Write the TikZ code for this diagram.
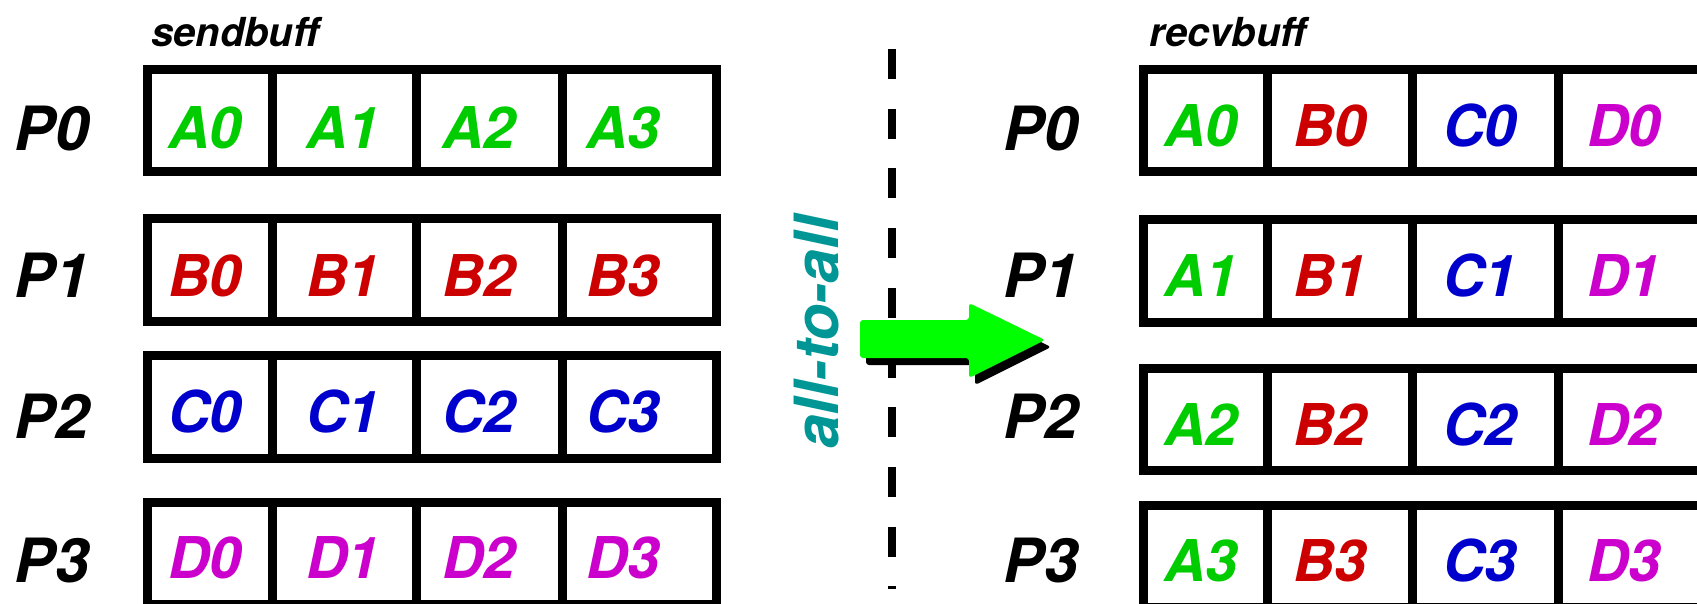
\documentclass[tikz,border=0pt]{standalone}
\usepackage{fontspec}
\setmainfont{TeX Gyre Heros}

\definecolor{itemA}{RGB}{0,204,0}
\definecolor{itemB}{RGB}{204,0,0}
\definecolor{itemC}{RGB}{0,0,204}
\definecolor{itemD}{RGB}{204,0,204}
\definecolor{opteal}{RGB}{0,150,150}
\definecolor{arrowgreen}{RGB}{0,255,0}

\begin{document}
\begin{tikzpicture}[
    x=0.5pt, y=-0.5pt,
    buff/.style={line width=4.5pt},
    plabel/.style={font=\fontsize{30.5}{30.5}\selectfont\bfseries\itshape, anchor=base, inner sep=0pt},
    item/.style={font=\fontsize{28.8}{28.8}\selectfont\bfseries\itshape, anchor=base, inner sep=0pt, text=#1},
    item/.default=black,
    bufftitle/.style={font=\fontsize{20}{20}\selectfont\bfseries\itshape, anchor=base, inner sep=0pt},
    splitline/.style={line width=4pt, dash pattern=on 15pt off 14.85pt},
    bigarrow/.style={fill=#1, rounded corners=1.5pt}
]
\useasboundingbox (0,0) rectangle (1697,604);
\clip (0,0) rectangle (1697,604);

% --- Buffer titles ---
\node[bufftitle] (sendbuff) at (235,47) {sendbuff};
\node[bufftitle] (recvbuff) at (1228,47) {recvbuff};

% --- Buffers (left: send, right: recv shifted by 995.5) ---
\foreach \top/\bot/\rtop/\rbot in {69.5/172/69.5/172, 218.5/321/219.5/322, 355.5/458/368.8/470.7, 502/604.5/505.5/607.5} {
    \draw[buff] (147.8,\top) rectangle (716.7,\bot);
    \draw[buff] (1143.3,\rtop) rectangle (1712.2,\rbot);
    \foreach \x in {272.3, 416.7, 562.7} {
        \draw[buff] (\x,\top) -- (\x,\bot);
        \draw[buff] ({\x+995.5},\rtop) -- ({\x+995.5},\rbot);
    }
}

% --- Process labels ---
\foreach \p/\y in {0/151, 1/298, 2/438, 3/582} {
    \node[plabel] (sendP\p) at (52,\y) {P\p};
    \node[plabel] (recvP\p) at (1041,\y) {P\p};
}

% --- Items: send row i holds X0..X3, recv row i holds A i..D i ---
\foreach \L/\clr/\ly/\ry [count=\i from 0] in {A/itemA/149/147, B/itemB/297/297, C/itemC/432/445, D/itemD/578/581} {
    \foreach \lx/\rx/\M/\mclr [count=\j from 0] in {205/1201/A/itemA, 343/1330/B/itemB, 479/1480/C/itemC, 623/1624/D/itemD} {
        \node[item=\clr]  (send\L\j) at (\lx,\ly) {\L\j};
        \node[item=\mclr] (recv\M\i) at (\rx,\ry) {\M\i};
    }
}

% --- Separator ---
\coordinate (splittop) at (892,49);
\coordinate (splitbot) at (892,589);
\draw[splitline] (splittop) -- (splitbot);

% --- Operation label ---
\node[font=\fontsize{30.5}{30.5}\selectfont\bfseries\itshape, text=opteal, rotate=90, anchor=base, inner sep=0pt] (alltoall) at (838,332.5) {all-to-all};

% --- Arrow with shadow ---
\begin{scope}[shift={(6,7)}]
    \path[bigarrow=black] (860,320) -- (969,320) -- (969,303) -- (1045,340) -- (969,378) -- (969,358) -- (860,358) -- cycle;
\end{scope}
\path[bigarrow=arrowgreen] (860,320) -- (969,320) -- (969,303) -- (1045,340) -- (969,378) -- (969,358) -- (860,358) -- cycle;

\end{tikzpicture}
\end{document}
